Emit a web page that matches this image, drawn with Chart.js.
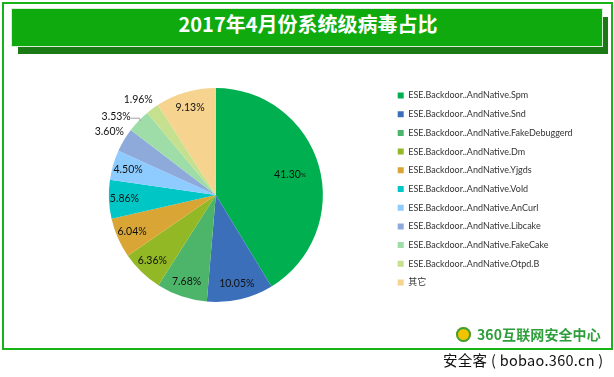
<!DOCTYPE html>
<html>
<head>
<meta charset="utf-8">
<script src="https://cdn.jsdelivr.net/npm/chart.js@4/dist/chart.umd.min.js"></script>
<style>
  html, body { margin:0; padding:0; background:#fff; }
  body { width:614px; height:377px; position:relative; overflow:hidden; font-family: Lato, "Noto Sans CJK SC", sans-serif; }
  #frame { position:absolute; left:2px; top:2px; width:611px; height:348px; box-sizing:border-box; border:2px solid #17b317; }
  #shadow { position:absolute; left:18px; top:17px; width:590px; height:37px; background:#1c7a16; }
  #banner { position:absolute; left:12px; top:9px; width:590px; height:37px; background:#0eaa0e; box-shadow:0 0 0 1px #d8efd8; }
  #title { position:absolute; left:12px; top:9px; width:592px; height:37px; line-height:37px; text-align:center; color:#fff; font:bold 20px "Noto Sans CJK SC", sans-serif; }
  #c { position:absolute; left:0; top:0; }
  #logo { position:absolute; left:456px; top:327px; width:15px; height:15px; border-radius:50%; background:#f3c300; box-shadow: inset 0 0 0 2px #3aa03a; }
  #logotext { position:absolute; left:477px; top:325px; font:bold 14px "Noto Sans CJK SC", sans-serif; color:#2d9e3a; line-height:18px; letter-spacing:0.1px; }
  #footer { position:absolute; left:443px; top:350px; font:14.5px "Noto Sans CJK SC", "Liberation Sans", sans-serif; color:#111; line-height:20px; letter-spacing:0.3px; }
</style>
</head>
<body>
<div id="frame"></div>
<div id="shadow"></div>
<div id="banner"></div>
<div id="title">2017年4月份系统级病毒占比</div>
<canvas id="c" width="614" height="377"></canvas>
<div id="logo"></div>
<div id="logotext">360互联网安全中心</div>
<div id="footer">安全客 ( bobao.360.cn )</div>
<script>
const categories = [
  "ESE.Backdoor..AndNative.Spm",
  "ESE.Backdoor..AndNative.Snd",
  "ESE.Backdoor..AndNative.FakeDebuggerd",
  "ESE.Backdoor..AndNative.Dm",
  "ESE.Backdoor..AndNative.Yjgds",
  "ESE.Backdoor..AndNative.Vold",
  "ESE.Backdoor..AndNative.AnCurl",
  "ESE.Backdoor..AndNative.Libcake",
  "ESE.Backdoor..AndNative.FakeCake",
  "ESE.Backdoor..AndNative.Otpd.B",
  "其它"
];
const shares = [41.30, 10.05, 7.68, 6.36, 6.04, 5.86, 4.50, 3.60, 3.53, 1.96, 9.13];
const colors = ["#00b050", "#3b6fba", "#4db56a", "#93b826", "#d9a636", "#00c6c6", "#8ecbff", "#8eaadb", "#9edca8", "#c5e08e", "#f6d38f"];

const LEG = { family: 'Lato, "Noto Sans CJK SC"', size: 9, pad: 9.7, box: 6 };
const PIE = { cx: 216, cy: 195, r: 107, legendBoxX: 398, firstItemTop: 91 };

// measure legend width so the legend sits where the reference puts it
const mctx = document.createElement('canvas').getContext('2d');
mctx.font = LEG.size + 'px ' + LEG.family;
const maxTextW = Math.max(...categories.map(t => mctx.measureText(t).width));
const legendW = LEG.pad + LEG.box + LEG.size / 2 + maxTextW + LEG.pad;
const legendLeft = PIE.legendBoxX - LEG.pad;
const chartTop = PIE.firstItemTop - LEG.pad;
const padLeft = 2 * PIE.cx - legendLeft;
const padRight = 614 - legendLeft - legendW;
const padTop = chartTop;
const padBottom = 377 - (2 * PIE.cy - chartTop);

const sliceLabels = {
  id: 'sliceLabels',
  afterDatasetsDraw(chart, args, opts) {
    const meta = chart.getDatasetMeta(0);
    const data = chart.data.datasets[0].data;
    const c = chart.ctx;
    c.save();
    c.fillStyle = opts.color;
    c.textBaseline = 'middle';
    meta.data.forEach((arc, i) => {
      const p = arc.getProps(['x', 'y', 'startAngle', 'endAngle', 'outerRadius'], true);
      const mid = (p.startAngle + p.endAngle) / 2;
      const v = data[i];
      const outside = v < opts.outsideBelow;
      const f = outside ? opts.outsideR : (v > 30 ? opts.bigR : opts.insideR);
      let lx = p.x + Math.cos(mid) * p.outerRadius * f;
      let ly = p.y + Math.sin(mid) * p.outerRadius * f;
      const nd = opts.nudge[i];
      if (nd) { lx += nd[0]; ly += nd[1]; }
      const num = v.toFixed(2);
      c.font = opts.size + 'px ' + opts.family;
      if (v > 30) {
        const w1 = c.measureText(num).width;
        c.font = (opts.size * 0.6) + 'px ' + opts.family;
        const w2 = c.measureText('%').width;
        const x0 = lx - (w1 + w2) / 2;
        c.textAlign = 'left';
        c.font = opts.size + 'px ' + opts.family;
        c.fillText(num, x0, ly);
        c.font = (opts.size * 0.6) + 'px ' + opts.family;
        c.fillText('%', x0 + w1, ly + 1);
      } else {
        c.textAlign = 'center';
        const txt = num + '%';
        c.fillText(txt, lx, ly);
        if (opts.leaders.includes(i)) {
          const w = c.measureText(txt).width;
          const ex = p.x + Math.cos(mid) * p.outerRadius;
          const ey = p.y + Math.sin(mid) * p.outerRadius;
          c.strokeStyle = '#8c8c8c';
          c.lineWidth = 0.8;
          c.beginPath();
          c.moveTo(lx + w / 2, ly + 2);
          c.lineTo(ex + 1, ly + 2);
          c.lineTo(ex + 2, ey);
          c.stroke();
        }
      }
    });
    c.restore();
  }
};

new Chart(document.getElementById('c'), {
  type: 'pie',
  data: {
    labels: categories,
    datasets: [{
      data: shares,
      backgroundColor: colors,
      borderWidth: 0,
      radius: PIE.r
    }]
  },
  options: {
    responsive: false,
    devicePixelRatio: 1,
    animation: false,
    events: [],
    layout: { padding: { left: padLeft, right: padRight, top: padTop, bottom: padBottom } },
    plugins: {
      tooltip: { enabled: false },
      legend: {
        position: 'right',
        align: 'start',
        labels: {
          boxWidth: LEG.box,
          boxHeight: LEG.box,
          padding: LEG.pad,
          color: '#333333',
          font: { family: LEG.family, size: LEG.size }
        }
      },
      sliceLabels: {
        color: '#111111',
        family: 'Lato',
        size: 10.5,
        outsideBelow: 4,
        insideR: 0.855,
        bigR: 0.72,
        outsideR: 1.16,
        nudge: { 8: [-10, 7], 9: [-4, 5] },
        leaders: [8]
      }
    }
  },
  plugins: [sliceLabels]
});
</script>
</body>
</html>
